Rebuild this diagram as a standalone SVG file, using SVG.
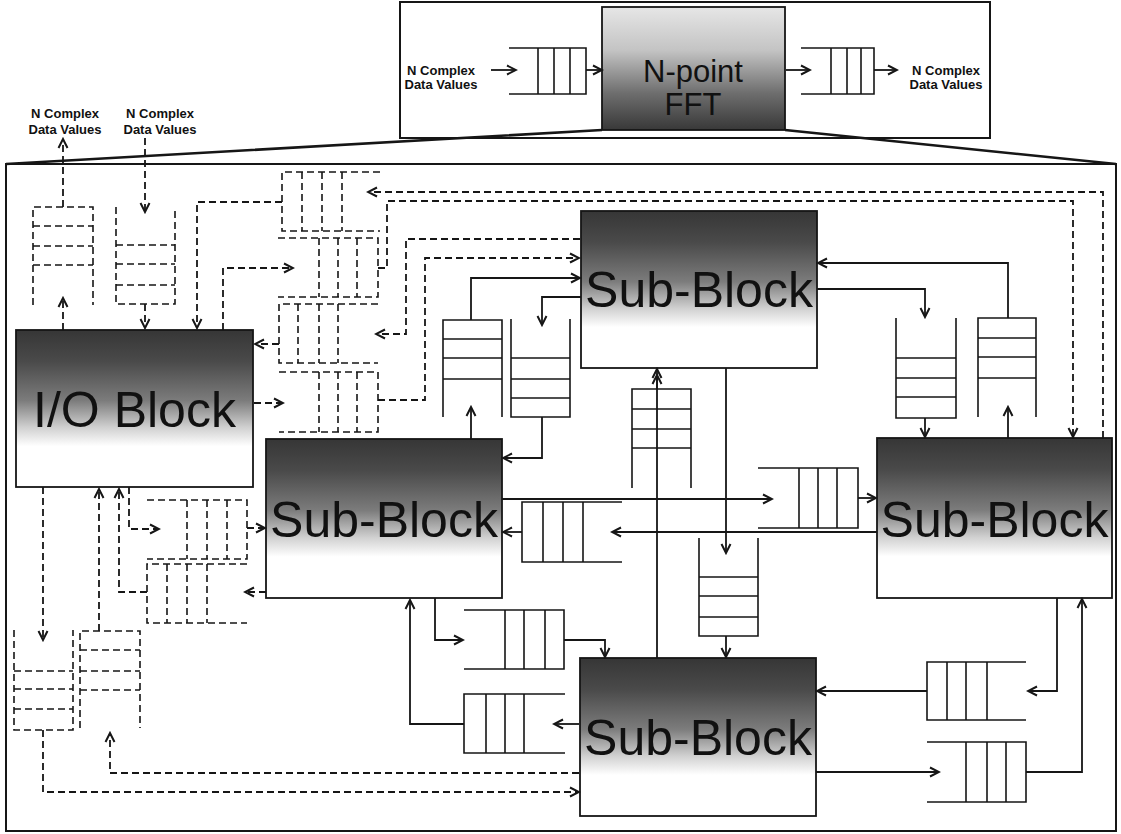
<svg xmlns="http://www.w3.org/2000/svg" width="1121" height="834" viewBox="0 0 1121 834">
<defs>
<style>
.ln{fill:none;stroke:#161616;stroke-width:1.8}
.dl{fill:none;stroke:#161616;stroke-width:1.8;stroke-dasharray:7 4}
.q{fill:none;stroke:#161616;stroke-width:1.6}
.dq{fill:none;stroke:#161616;stroke-width:1.6;stroke-dasharray:7 4}
.blk{fill:url(#g);stroke:#161616;stroke-width:1.8}
.big{font-family:"Liberation Sans",Arial,sans-serif;font-size:50px;fill:#111;text-anchor:middle}
.fft{font-family:"Liberation Sans",Arial,sans-serif;font-size:31px;fill:#111;text-anchor:middle}
.lbl{font-family:"Liberation Sans",Arial,sans-serif;font-size:13px;font-weight:bold;fill:#111;text-anchor:middle}
.frame{fill:none;stroke:#161616;stroke-width:2}
</style>
<linearGradient id="g" x1="0" y1="0" x2="0" y2="1">
<stop offset="0" stop-color="#363636"/>
<stop offset="0.2" stop-color="#4a4a4a"/>
<stop offset="0.45" stop-color="#7c7c7c"/>
<stop offset="0.62" stop-color="#d0d0d0"/>
<stop offset="0.74" stop-color="#ffffff"/>
<stop offset="1" stop-color="#ffffff"/>
</linearGradient>
<linearGradient id="gf" x1="0" y1="0" x2="0" y2="1">
<stop offset="0" stop-color="#e6e6e6"/>
<stop offset="0.35" stop-color="#c4c4c4"/>
<stop offset="0.7" stop-color="#6e6e6e"/>
<stop offset="1" stop-color="#383838"/>
</linearGradient>
<marker id="a" markerUnits="userSpaceOnUse" markerWidth="12" markerHeight="12" refX="10" refY="6" orient="auto" viewBox="0 0 12 12">
<path d="M1,1.5 L10,6 L1,10.5" fill="none" stroke="#161616" stroke-width="2" stroke-dasharray="none"/>
</marker>
</defs>
<rect width="1121" height="834" fill="#ffffff"/>

<g id="frames">
<rect class="frame" x="400" y="2" width="590" height="136"/>
<rect class="frame" x="6" y="164" width="1110" height="667"/>
<path d="M602,130 L6,164 M785,130 L1116,164" fill="none" stroke="#161616" stroke-width="2.6"/>
</g>

<g id="fft-node">
<rect x="602" y="7" width="183" height="123" fill="url(#gf)" stroke="#161616" stroke-width="1.8"/>
<text class="fft" x="693" y="82">N-point</text>
<text class="fft" x="693" y="115">FFT</text>
</g>
<g id="top-labels">
<text class="lbl" x="441" y="75">N Complex</text>
<text class="lbl" x="441" y="89">Data Values</text>
<text class="lbl" x="946" y="75">N Complex</text>
<text class="lbl" x="946" y="89">Data Values</text>
<text class="lbl" x="65" y="118">N Complex</text>
<text class="lbl" x="65" y="134">Data Values</text>
<text class="lbl" x="160" y="118">N Complex</text>
<text class="lbl" x="160" y="134">Data Values</text>
</g>
<g id="fft-queue-in"><path class="q" d="M509,48 H586 V94 H509 M538,48 V94 M554,48 V94 M570,48 V94"/></g>
<g id="fft-queue-out"><path class="q" d="M801,48 H874 V94 H801 M831,48 V94 M847,48 V94 M861,48 V94"/></g>

<g id="io-block">
<rect class="blk" x="16" y="330" width="237" height="157"/>
<text class="big" x="134.5" y="427">I/O Block</text>
</g>
<g id="sub-block-top">
<rect class="blk" x="581" y="211" width="236" height="157"/>
<text class="big" x="699" y="307">Sub-Block</text>
</g>
<g id="sub-block-left">
<rect class="blk" x="266" y="439" width="236" height="159"/>
<text class="big" x="384" y="537">Sub-Block</text>
</g>
<g id="sub-block-right">
<rect class="blk" x="877" y="438" width="235" height="160"/>
<text class="big" x="994.5" y="537">Sub-Block</text>
</g>
<g id="sub-block-bottom">
<rect class="blk" x="580" y="658" width="236" height="158"/>
<text class="big" x="698" y="755">Sub-Block</text>
</g>

<g id="queue-a"><path class="dq" d="M33,305 V207 H93 V305 M33,226 H93 M33,246 H93 M33,265 H93"/></g>
<g id="queue-b"><path class="dq" d="M116,207 V304 H175 V207 M116,245 H175 M116,264 H175 M116,285 H175"/></g>
<g id="queue-c"><path class="dq" d="M380,172 H282 V231 H380 M302,172 V231 M322,172 V231 M342,172 V231"/></g>
<g id="queue-d"><path class="dq" d="M278,238 H378 V297 H278 M319,238 V297 M338,238 V297 M357,238 V297"/></g>
<g id="queue-e"><path class="dq" d="M378,304 H279 V363 H378 M298,304 V363 M319,304 V363 M338,304 V363"/></g>
<g id="queue-f"><path class="dq" d="M279,372 H378 V432 H279 M319,372 V432 M338,372 V432 M357,372 V432"/></g>
<g id="queue-t"><path class="dq" d="M147,500 H247 V559 H147 M187,500 V559 M207,500 V559 M227,500 V559"/></g>
<g id="queue-s"><path class="dq" d="M247,564 H147 V623 H247 M167,564 V623 M187,564 V623 M207,564 V623"/></g>
<g id="queue-q"><path class="dq" d="M14,630 V730 H73 V630 M14,671 H73 M14,689 H73 M14,709 H73"/></g>
<g id="queue-r"><path class="dq" d="M80,728 V631 H140 V728 M80,650 H140 M80,671 H140 M80,690 H140"/></g>

<g id="queue-g"><path class="q" d="M443,417 V320 H502 V417 M443,339 H502 M443,358 H502 M443,379 H502"/></g>
<g id="queue-h"><path class="q" d="M511,319 V417 H570 V319 M511,358 H570 M511,379 H570 M511,398 H570"/></g>
<g id="queue-i"><path class="q" d="M632,488 V389 H691 V488 M632,409 H691 M632,429 H691 M632,448 H691"/></g>
<g id="queue-j"><path class="q" d="M699,538 V636 H758 V538 M699,577 H758 M699,596 H758 M699,617 H758"/></g>
<g id="queue-k"><path class="q" d="M978,417 V318 H1036 V417 M978,338 H1036 M978,357 H1036 M978,378 H1036"/></g>
<g id="queue-l"><path class="q" d="M896,318 V418 H956 V318 M896,358 H956 M896,378 H956 M896,397 H956"/></g>
<g id="queue-m"><path class="q" d="M758,468 H858 V528 H758 M799,468 V528 M818,468 V528 M837,468 V528"/></g>
<g id="queue-n"><path class="q" d="M622,502 H522 V562 H622 M543,502 V562 M563,502 V562 M583,502 V562"/></g>
<g id="queue-o"><path class="q" d="M464,610 H564 V669 H464 M505,610 V669 M524,610 V669 M545,610 V669"/></g>
<g id="queue-p"><path class="q" d="M565,694 H464 V753 H565 M486,694 V753 M505,694 V753 M524,694 V753"/></g>
<g id="queue-u"><path class="q" d="M1026,662 H927 V720 H1026 M947,662 V720 M966,662 V720 M987,662 V720"/></g>
<g id="queue-v"><path class="q" d="M927,742 H1026 V802 H927 M966,742 V802 M987,742 V802 M1006,742 V802"/></g>

<g id="connectors" marker-end="url(#a)">
<path class="ln" d="M491,70 H516"/>
<path class="ln" d="M586,70 H602"/>
<path class="ln" d="M786,70 H810"/>
<path class="ln" d="M874,70 H897"/>

<path class="ln" d="M471,320 V278 H580"/>
<path class="ln" d="M471,439 V407"/>
<path class="ln" d="M581,297 H542 V325"/>
<path class="ln" d="M542,417 V458 H503"/>
<path class="ln" d="M657,389 V369"/>
<path class="ln" d="M657,658 V375"/>
<path class="ln" d="M726,368 V553"/>
<path class="ln" d="M726,636 V657"/>
<path class="ln" d="M1008,318 V263 H818"/>
<path class="ln" d="M1008,438 V407"/>
<path class="ln" d="M817,289 H925 V317"/>
<path class="ln" d="M925,418 V437"/>
<path class="ln" d="M502,499 H772"/>
<path class="ln" d="M858,498 H876"/>
<path class="ln" d="M877,532 H612"/>
<path class="ln" d="M522,532 H503"/>
<path class="ln" d="M435,598 V640 H463"/>
<path class="ln" d="M564,640 H605 V657"/>
<path class="ln" d="M464,724 H410 V600"/>
<path class="ln" d="M579,724 H554"/>
<path class="ln" d="M927,691 H817"/>
<path class="ln" d="M1057,598 V691 H1028"/>
<path class="ln" d="M816,772 H939"/>
<path class="ln" d="M1026,772 H1082 V599"/>

<path class="dl" d="M63,330 V298"/>
<path class="dl" d="M63,207 V139"/>
<path class="dl" d="M145,138 V212"/>
<path class="dl" d="M145,304 V328"/>
<path class="dl" d="M282,202 H197 V328"/>
<path class="dl" d="M1103,438 V192 H368"/>
<path class="dl" d="M223,330 V268 H293"/>
<path class="dl" d="M378,268 H387 V201 H1073 V437"/>
<path class="dl" d="M279,344 H255"/>
<path class="dl" d="M580,239 H406 V334 H376"/>
<path class="dl" d="M254,403 H283"/>
<path class="dl" d="M378,400 H425 V258 H579"/>
<path class="dl" d="M129,487 V529 H159"/>
<path class="dl" d="M247,528 H265"/>
<path class="dl" d="M266,592 H245"/>
<path class="dl" d="M147,592 H119 V489"/>
<path class="dl" d="M99,631 V489"/>
<path class="dl" d="M579,773 H110 V733"/>
<path class="dl" d="M43,487 V640"/>
<path class="dl" d="M43,730 V792 H579"/>
</g>
</svg>
